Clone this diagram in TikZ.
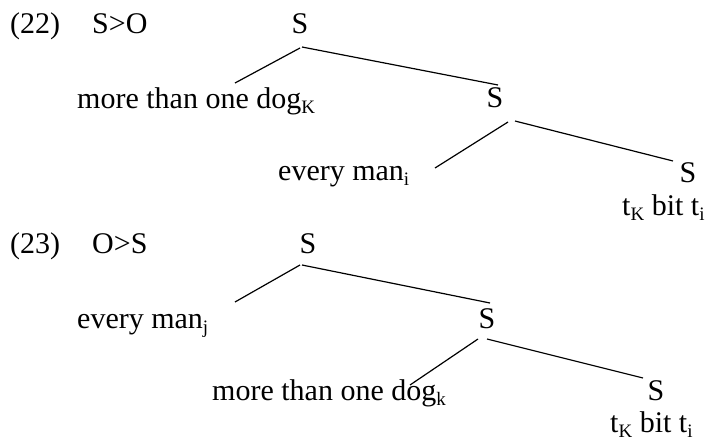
\documentclass[tikz,border=0pt]{standalone}
\usepackage{fontspec}
\setmainfont{Liberation Serif}
\newcommand\sbx[1]{\raisebox{-0.18em}{\fontsize{19}{20}\selectfont #1}}
\tikzset{
  lbl/.style={inner sep=0pt, anchor=base west, font=\fontsize{30}{36}\selectfont},
  cat/.style={inner sep=0pt, anchor=base, font=\fontsize{30}{36}\selectfont},
  branch/.style={line width=1.2pt}
}
\begin{document}
\begin{tikzpicture}[x=1pt,y=-1pt]
\useasboundingbox (0,0) rectangle (707,442);
% (22)
\node[lbl] (n22) at (10,33) {(22)};
\node[lbl] (so) at (92,33) {S>O};
\node[cat] (s1) at (300,33) {S};
\node[lbl] (dogK) at (77,108) {more than one dog\sbx{K}};
\node[cat] (s2) at (495,107) {S};
\node[lbl] (mani) at (278,180) {every man\sbx{i}};
\node[cat] (s3) at (688,182) {S};
\node[lbl] (tbit1) at (622,215) {t\sbx{K} bit t\sbx{i}};
\coordinate (a1) at (300,48); \coordinate (a2) at (235,83);
\coordinate (b1) at (302,47); \coordinate (b2) at (498,85);
\coordinate (c1) at (508,122); \coordinate (c2) at (435,168);
\coordinate (d1) at (515,121); \coordinate (d2) at (673,161);
\draw[branch] (a1) -- (a2);
\draw[branch] (b1) -- (b2);
\draw[branch] (c1) -- (c2);
\draw[branch] (d1) -- (d2);
% (23)
\node[lbl] (n23) at (10,253) {(23)};
\node[lbl] (os) at (92,253) {O>S};
\node[cat] (s4) at (308,253) {S};
\node[lbl] (manj) at (77,328) {every man\sbx{j}};
\node[cat] (s5) at (487,328) {S};
\node[lbl] (dogk) at (212,400) {more than one dog\sbx{k}};
\node[cat] (s6) at (656,400) {S};
\node[lbl] (tbit2) at (610,432) {t\sbx{K} bit t\sbx{i}};
\coordinate (e1) at (300,265); \coordinate (e2) at (235,302);
\coordinate (f1) at (302,265); \coordinate (f2) at (490,303);
\coordinate (g1) at (478,339); \coordinate (g2) at (410,385);
\coordinate (h1) at (487,339); \coordinate (h2) at (643,378);
\draw[branch] (e1) -- (e2);
\draw[branch] (f1) -- (f2);
\draw[branch] (g1) -- (g2);
\draw[branch] (h1) -- (h2);
\end{tikzpicture}
\end{document}
